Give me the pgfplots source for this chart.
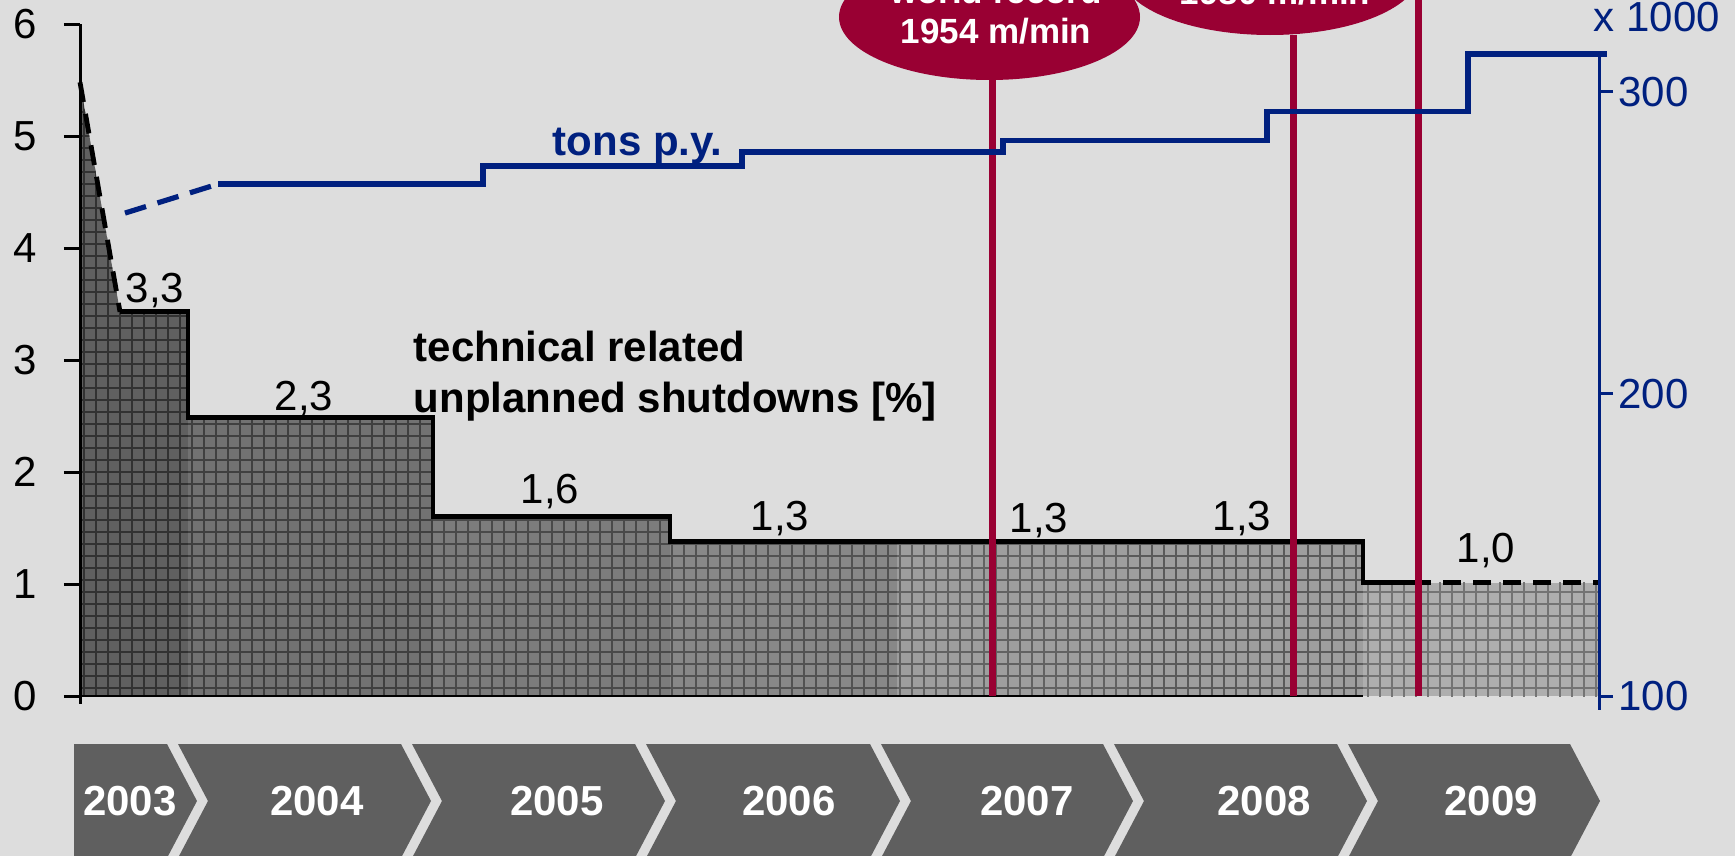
\documentclass[border=0pt]{standalone}
\usepackage{pgfplots}
\pgfplotsset{compat=1.18}
\usepackage{fontspec}
\setmainfont{Liberation Sans}
\usetikzlibrary{patterns}
\definecolor{bg}{HTML}{DDDDDD}
\definecolor{navy}{HTML}{00207F}
\definecolor{wine}{HTML}{990033}
\definecolor{chev}{HTML}{5F5F5F}
\definecolor{f03}{RGB}{96,96,96}\definecolor{g03}{RGB}{50,50,50}
\definecolor{f04}{RGB}{114,114,114}\definecolor{g04}{RGB}{64,64,64}
\definecolor{f05}{RGB}{124,124,124}\definecolor{g05}{RGB}{74,74,74}
\definecolor{f06}{RGB}{136,136,136}\definecolor{g06}{RGB}{82,82,82}
\definecolor{f07}{RGB}{158,158,158}\definecolor{g07}{RGB}{98,98,98}
\definecolor{f08}{RGB}{158,158,158}\definecolor{g08}{RGB}{90,90,90}
\definecolor{f09}{RGB}{174,174,174}\definecolor{g09}{RGB}{116,116,116}
\begin{document}
\begin{tikzpicture}
\path[use as bounding box] (0pt,0pt) rectangle (433.75pt,-214pt);
\clip (0pt,0pt) rectangle (433.75pt,-214pt);
\fill[bg] (0pt,0pt) rectangle (433.75pt,-214pt);
\pgfplotsset{every axis/.append style={scale only axis, width=379.75pt, height=168pt,
  at={(20pt,-174pt)}, anchor=south west, xmin=80, xmax=1599, clip=false,
  tick label style={font=\fontsize{10.5}{12}\selectfont},
  /pgf/number format/assume math mode=true, tick align=outside,
  axis x line=none}}
% left axis: technical related unplanned shutdowns [%]
\begin{axis}[ymin=0, ymax=6, ytick={0,1,2,3,4,5,6},
  axis y line*=left, y axis line style={draw=none},
  major tick length=4pt, tick style={black, line width=0.75pt},
  yticklabel style={black, xshift=-3.3pt}]
\addplot[fill=f03, draw=none, postaction={pattern=grid, pattern color=g03}] coordinates {(80,5.48) (120,3.43) (188,3.43)} \closedcycle;
\addplot[fill=f04, draw=none, postaction={pattern=grid, pattern color=g04}] coordinates {(188,2.49) (433,2.49)} \closedcycle;
\addplot[fill=f05, draw=none, postaction={pattern=grid, pattern color=g05}] coordinates {(433,1.60) (670,1.60)} \closedcycle;
\addplot[fill=f06, draw=none, postaction={pattern=grid, pattern color=g06}] coordinates {(670,1.38) (897,1.38)} \closedcycle;
\addplot[fill=f07, draw=none, postaction={pattern=grid, pattern color=g07}] coordinates {(897,1.38) (1129,1.38)} \closedcycle;
\addplot[fill=f08, draw=none, postaction={pattern=grid, pattern color=g08}] coordinates {(1129,1.38) (1363,1.38)} \closedcycle;
\addplot[fill=f09, draw=none, postaction={pattern=grid, pattern color=g09}] coordinates {(1363,1.01) (1599,1.01)} \closedcycle;
\addplot[black, line width=1.2pt, dash pattern=on 5pt off 3pt] coordinates {(80,5.48) (120,3.43)};
\addplot[black, line width=1.2pt, line join=miter] coordinates {(120,3.43) (188,3.43) (188,2.49) (433,2.49) (433,1.60) (670,1.60) (670,1.38) (1363,1.38) (1363,1.01) (1413,1.01)};
\addplot[black, line width=1.2pt, dash pattern=on 4.5pt off 3pt] coordinates {(1413,1.01) (1599,1.01)};
\addplot[black, line width=0.5pt] coordinates {(80,0) (1363,0)};
% world-record markers
\addplot[wine, line width=1.75pt] coordinates {(992,0) (992,5.5)};
\addplot[wine, line width=1.75pt] coordinates {(1293,0) (1293,5.9)};
\addplot[wine, line width=1.75pt] coordinates {(1418,0) (1418,6.4)};
\end{axis}
% right axis: tons p.y. (x 1000)
\begin{axis}[ymin=100, ymax=322.5, ytick={100,200,300},
  axis y line*=right, y axis line style={draw=none},
  major tick length=3.5pt, tick style={navy, line width=0.75pt},
  yticklabel style={navy, xshift=-2.2pt}]
\addplot[navy, line width=1.3pt, dash pattern=on 5.5pt off 3pt] coordinates {(125,259.9) (218,269.5)};
\addplot[navy, line width=1.3pt, line join=miter] coordinates {(218,269.5) (483,269.5) (483,275.5) (742,275.5) (742,280.1) (1003,280.1) (1003,284.0) (1267,284.0) (1267,293.4) (1468,293.4) (1468,312.6) (1607,312.6)};
\end{axis}
\begin{scope}[x=0.25pt, y=-0.25pt]
\draw[black, line width=0.75pt] (80,24) -- (80,704);
\draw[navy, line width=0.75pt] (1599,54) -- (1599,710);
% balloons
\fill[wine] (989.5,17) ellipse [x radius=150.5, y radius=63];
\fill[wine] (1270,-28) ellipse [x radius=150, y radius=63];
\begin{scope}[every node/.style={text=white, font=\bfseries\fontsize{8.75}{10}\selectfont, anchor=base, inner sep=0pt}]
\node at (996,4) {world record};
\node at (996,43.5) {1954 m/min};
\node at (1275,-35) {world record};
\node at (1275,5) {1980 m/min};
\end{scope}
% value labels
\begin{scope}[every node/.style={font=\fontsize{10.5}{12}\selectfont, anchor=base, inner sep=0pt}]
\node at (155,302) {3,3};
\node at (304,410) {2,3};
\node at (550,503) {1,6};
\node at (780,530) {1,3};
\node at (1039,532) {1,3};
\node at (1242,530) {1,3};
\node at (1486,562) {1,0};
\end{scope}
\node[font=\bfseries\fontsize{10.5}{12}\selectfont, anchor=base west, inner sep=0pt] at (413,361) {technical related};
\node[font=\bfseries\fontsize{10.5}{12}\selectfont, anchor=base west, inner sep=0pt] at (413,412) {unplanned shutdowns [\%]};
\node[font=\bfseries\fontsize{10.5}{12}\selectfont, text=navy, anchor=base west, inner sep=0pt] at (552,155) {tons p.y.};
\node[font=\fontsize{10.5}{12}\selectfont, text=navy, anchor=base west, inner sep=0pt] at (1593,32) {x 1000};
% year chevrons
\fill[chev] (74,744) -- (167,744) -- (197,801) -- (167,858) -- (74,858) -- cycle;
\foreach \L/\R in {178/401, 412/635, 646/870, 881/1103, 1114/1337, 1348/1570}
  \fill[chev] (\L,744) -- (\R,744) -- (\R+30,801) -- (\R,858) -- (\L,858) -- (\L+30,801) -- cycle;
\begin{scope}[every node/.style={text=white, font=\bfseries\fontsize{10.5}{12}\selectfont, inner sep=0pt}]
\node at (130,801) {2003};
\node at (317,801) {2004};
\node at (557,801) {2005};
\node at (789,801) {2006};
\node at (1027,801) {2007};
\node at (1264,801) {2008};
\node at (1491,801) {2009};
\end{scope}
\end{scope}
\end{tikzpicture}
\end{document}
